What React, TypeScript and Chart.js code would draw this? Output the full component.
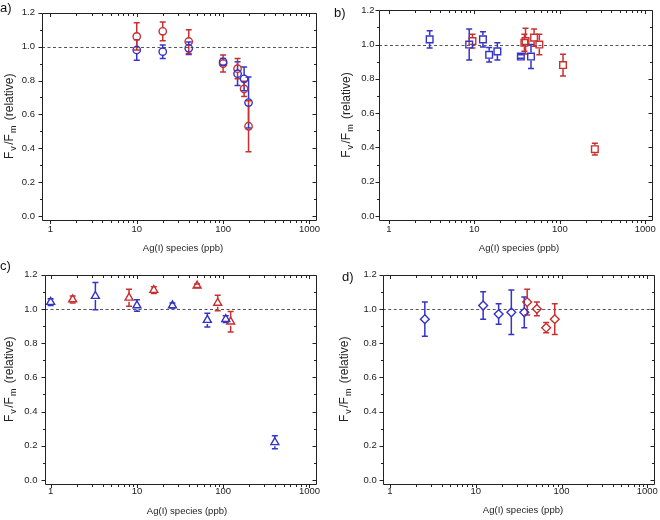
import React, { useEffect, useRef } from "react";
import { Chart, registerables } from "chart.js";

Chart.register(...registerables);

const FONT = "'Liberation Sans', Arial, Helvetica, sans-serif";
const RED = "rgb(200,48,48)";
const BLUE = "rgb(52,52,200)";

// ---------- data ----------
const Y_TICKS = [0, 0.2, 0.4, 0.6, 0.8, 1.0, 1.2];
const X_TICKS = [1, 10, 100, 1000];
const REF_VALUE = 1.0;
const X_TITLE = "Ag(I) species (ppb)";

// panel a
const aRedX = [10, 20, 40, 100, 147, 175, 197];
const aRedY = [1.06, 1.09, 1.03, 0.9, 0.87, 0.75, 0.53];
const aRedErr = [0.08, 0.055, 0.07, 0.05, 0.06, 0.045, 0.15];
const aBlueX = [10, 20, 40, 100, 147, 175, 197];
const aBlueY = [0.98, 0.97, 0.99, 0.91, 0.84, 0.81, 0.67];
const aBlueErr = [0.06, 0.04, 0.037, 0.02, 0.07, 0.07, 0.15];

// panel b
const bBlueX = [3, 8.7, 12.6, 14.9, 18.6, 35, 46];
const bBlueY = [1.03, 1.0, 1.03, 0.94, 0.96, 0.93, 0.93];
const bBlueErr = [0.05, 0.09, 0.045, 0.042, 0.05, 0.01, 0.07];
const bRedX = [9.5, 38.5, 39.7, 50, 57.6, 109, 257];
const bRedY = [1.02, 1.01, 1.02, 1.04, 1.0, 0.88, 0.39];
const bRedErr = [0.04, 0.05, 0.075, 0.05, 0.06, 0.063, 0.034];

// panel c
const cBlueX = [1, 3.3, 10, 25.8, 65.5, 107, 397];
const cBlueY = [1.04, 1.075, 1.02, 1.02, 0.935, 0.94, 0.22];
const cBlueErr = [0.02, 0.08, 0.033, 0.015, 0.04, 0.02, 0.038];
const cRedX = [1.8, 8.1, 15.7, 49.8, 86.3, 122];
const cRedY = [1.055, 1.065, 1.11, 1.135, 1.035, 0.925];
const cRedErr = [0.02, 0.05, 0.02, 0.01, 0.045, 0.06];

// panel d
const dBlueX = [2.55, 12.2, 18.5, 26, 36.8];
const dBlueY = [0.94, 1.02, 0.97, 0.98, 0.98];
const dBlueErr = [0.1, 0.08, 0.06, 0.13, 0.09];
const dRedX = [39.8, 51.6, 66.2, 83.4];
const dRedY = [1.04, 1.0, 0.89, 0.94];
const dRedErr = [0.075, 0.04, 0.03, 0.09];

// ---------- layout ----------
type Series = { xs: number[]; ys: number[]; errs: number[]; color: string };
type Panel = {
  label: string;
  pos: [number, number];
  left: number; right: number; top: number; bottom: number;
  xMin: number; xMax: number; yMin: number; yMax: number;
  yPad: number; xPad: number;
  labelX: number; labelY: number;
  titleX: number; titleY: number; yTitleX: number;
  style: string; radius: number;
  series: Series[];
};

const panels: Panel[] = [
  {
    label: "a)", pos: [0, 0], left: 42, right: 316, top: 10, bottom: 220,
    xMin: 0.8, xMax: 1190, yMin: -0.023, yMax: 1.2, yPad: 7, xPad: 4,
    labelX: 0, labelY: 8, titleX: 183, titleY: 248, yTitleX: 10,
    style: "circle", radius: 3.7,
    series: [
      { xs: aBlueX, ys: aBlueY, errs: aBlueErr, color: BLUE },
      { xs: aRedX, ys: aRedY, errs: aRedErr, color: RED },
    ],
  },
  {
    label: "b)", pos: [330, 0], left: 49, right: 325, top: 10, bottom: 220,
    xMin: 0.766, xMax: 1190, yMin: -0.023, yMax: 1.2, yPad: 4.5, xPad: 4,
    labelX: 4, labelY: 13, titleX: 189, titleY: 248, yTitleX: 17,
    style: "rect", radius: 4.7,
    series: [
      { xs: bBlueX, ys: bBlueY, errs: bBlueErr, color: BLUE },
      { xs: bRedX, ys: bRedY, errs: bRedErr, color: RED },
    ],
  },
  {
    label: "c)", pos: [0, 260], left: 45, right: 316, top: 14.7, bottom: 224,
    xMin: 0.86, xMax: 1190, yMin: -0.0234, yMax: 1.2, yPad: 7.5, xPad: 2,
    labelX: 0, labelY: 6, titleX: 187, titleY: 251.5, yTitleX: 10,
    style: "triangle", radius: 4.6,
    series: [
      { xs: cBlueX, ys: cBlueY, errs: cBlueErr, color: BLUE },
      { xs: cRedX, ys: cRedY, errs: cRedErr, color: RED },
    ],
  },
  {
    label: "d)", pos: [330, 260], left: 52.7, right: 325, top: 14.7, bottom: 224,
    xMin: 0.823, xMax: 1186, yMin: -0.0234, yMax: 1.2, yPad: 6, xPad: 2,
    labelX: 12, labelY: 17, titleX: 193, titleY: 250.5, yTitleX: 15,
    style: "rectRot", radius: 4.4,
    series: [
      { xs: dBlueX, ys: dBlueY, errs: dBlueErr, color: BLUE },
      { xs: dRedX, ys: dRedY, errs: dRedErr, color: RED },
    ],
  },
];

const W = 330;
const H = 260;

function makePlugin(p: Panel) {
  return {
    id: "decor",
    beforeDatasetsDraw(chart: any) {
      const { ctx, chartArea } = chart;
      const { left, right } = chartArea;
      const xs = chart.scales.x;
      const ys = chart.scales.y;
      ctx.save();
      // reference dashed line
      const py = Math.round(ys.getPixelForValue(REF_VALUE)) + 0.5;
      ctx.strokeStyle = "#555";
      ctx.lineWidth = 1;
      ctx.setLineDash([3, 2.5]);
      ctx.beginPath();
      ctx.moveTo(left, py);
      ctx.lineTo(right, py);
      ctx.stroke();
      ctx.setLineDash([]);
      // error bars
      chart.data.datasets.forEach((ds: any) => {
        ctx.strokeStyle = ds.borderColor;
        ctx.lineWidth = 1.5;
        ds.data.forEach((d: any, j: number) => {
          const e = ds.errs[j];
          const cx = xs.getPixelForValue(d.x);
          const cy = ys.getPixelForValue(d.y);
          const yt = ys.getPixelForValue(d.y + e);
          const yb = ys.getPixelForValue(d.y - e);
          const r = p.radius * 0.85;
          ctx.beginPath();
          if (cy - yt > r) {
            ctx.moveTo(cx, yt);
            ctx.lineTo(cx, cy - r);
          }
          if (yb - cy > r) {
            ctx.moveTo(cx, cy + r);
            ctx.lineTo(cx, yb);
          }
          ctx.moveTo(cx - 3, yt);
          ctx.lineTo(cx + 3, yt);
          ctx.moveTo(cx - 3, yb);
          ctx.lineTo(cx + 3, yb);
          ctx.stroke();
        });
      });
      ctx.restore();
    },
    afterDraw(chart: any) {
      const { ctx, chartArea } = chart;
      const { left, right, top, bottom } = chartArea;
      const xs = chart.scales.x;
      const ys = chart.scales.y;
      ctx.save();
      ctx.strokeStyle = "#222";
      ctx.lineWidth = 1;
      const L = Math.round(left) + 0.5;
      const R = Math.round(right) + 0.5;
      const T = Math.round(top) + 0.5;
      const B = Math.round(bottom) + 0.5;
      ctx.beginPath();
      ctx.rect(L, T, R - L, B - T);
      ctx.stroke();
      ctx.beginPath();
      // y ticks
      for (let k = 0; k <= 12; k++) {
        const v = k / 10;
        const major = k % 2 === 0;
        const yy = Math.round(ys.getPixelForValue(v)) + 0.5;
        const len = major ? 4 : 2.5;
        ctx.moveTo(L, yy);
        ctx.lineTo(L - len, yy);
        ctx.moveTo(R, yy);
        ctx.lineTo(R - len, yy);
      }
      // x ticks
      for (let dec = 1; dec <= 1000; dec *= 10) {
        for (let m = 1; m <= 9; m++) {
          const v = dec * m;
          if (v > p.xMax || v < p.xMin) continue;
          if (dec === 1000 && m > 1) continue;
          const major = m === 1;
          const xx = Math.round(xs.getPixelForValue(v)) + 0.5;
          const len = major ? 3.5 : 2.5;
          ctx.moveTo(xx, B);
          ctx.lineTo(xx, B + len);
          ctx.moveTo(xx, T);
          ctx.lineTo(xx, T + len);
        }
      }
      ctx.stroke();

      // panel label
      ctx.fillStyle = "#111";
      ctx.font = `13px ${FONT}`;
      ctx.textAlign = "left";
      ctx.textBaseline = "middle";
      ctx.fillText(p.label, p.labelX, p.labelY);

      // x title
      ctx.font = `9.5px ${FONT}`;
      ctx.textAlign = "center";
      ctx.fillStyle = "#222";
      ctx.fillText(X_TITLE, p.titleX, p.titleY);

      // y title with subscripts
      ctx.translate(p.yTitleX, (top + bottom) / 2);
      ctx.rotate(-Math.PI / 2);
      // [text, subscript, gap after]
      const parts: [string, boolean, number][] = [
        ["F", false, 1],
        ["v", true, 1.5],
        ["/F", false, 1],
        ["m", true, 2],
        [" (relative)", false, 0],
      ];
      const big = `12px ${FONT}`;
      const small = `9px ${FONT}`;
      let total = 0;
      parts.forEach(([t, sub, g]) => {
        ctx.font = sub ? small : big;
        total += ctx.measureText(t).width + g;
      });
      let cx = -total / 2;
      ctx.textAlign = "left";
      ctx.textBaseline = "middle";
      parts.forEach(([t, sub, g]) => {
        ctx.font = sub ? small : big;
        ctx.fillText(t, cx, sub ? 4 : 0);
        cx += ctx.measureText(t).width + g;
      });
      ctx.restore();
    },
  };
}

function PanelChart({ p }: { p: Panel }) {
  const ref = useRef<HTMLCanvasElement | null>(null);
  useEffect(() => {
    if (!ref.current) return;
    const datasets = p.series.map((s) => ({
      data: s.xs.map((x, i) => ({ x, y: s.ys[i] })),
      errs: s.errs,
      borderColor: s.color,
      backgroundColor: "rgba(0,0,0,0)",
      pointStyle: p.style,
      pointRadius: p.radius,
      pointBorderWidth: 1.4,
      showLine: false,
    }));
    const chart = new Chart(ref.current, {
      type: "scatter",
      data: { datasets: datasets as any },
      options: {
        animation: false,
        responsive: false,
        events: [],
        layout: { padding: { left: 0, right: W - p.right, top: p.top, bottom: 0 } },
        plugins: { legend: { display: false }, tooltip: { enabled: false } },
        scales: {
          x: {
            type: "logarithmic",
            min: p.xMin,
            max: p.xMax,
            grid: { display: false, drawTicks: false },
            border: { display: false },
            afterBuildTicks: (s: any) => {
              s.ticks = X_TICKS.map((v) => ({ value: v }));
            },
            afterFit: (s: any) => {
              s.height = H - p.bottom;
            },
            ticks: {
              autoSkip: false,
              maxRotation: 0,
              padding: p.xPad,
              color: "#222",
              font: { family: FONT, size: 9.5 },
              callback: (v: any) => String(v),
            },
          },
          y: {
            type: "linear",
            min: p.yMin,
            max: p.yMax,
            grid: { display: false, drawTicks: false },
            border: { display: false },
            afterBuildTicks: (s: any) => {
              s.ticks = Y_TICKS.map((v) => ({ value: v }));
            },
            afterFit: (s: any) => {
              s.width = p.left;
            },
            ticks: {
              padding: p.yPad,
              color: "#222",
              font: { family: FONT, size: 9.5 },
              callback: (v: any) => Number(v).toFixed(1),
            },
          },
        },
      },
      plugins: [makePlugin(p)],
    });
    return () => chart.destroy();
  }, [p]);
  return (
    <canvas
      ref={ref}
      width={W}
      height={H}
      style={{ position: "absolute", left: p.pos[0], top: p.pos[1], width: W, height: H }}
    />
  );
}

export default function App() {
  return (
    <div style={{ position: "fixed", left: 0, top: 0, width: 660, height: 520, background: "#fff" }}>
      {panels.map((p) => (
        <PanelChart key={p.label} p={p} />
      ))}
    </div>
  );
}
